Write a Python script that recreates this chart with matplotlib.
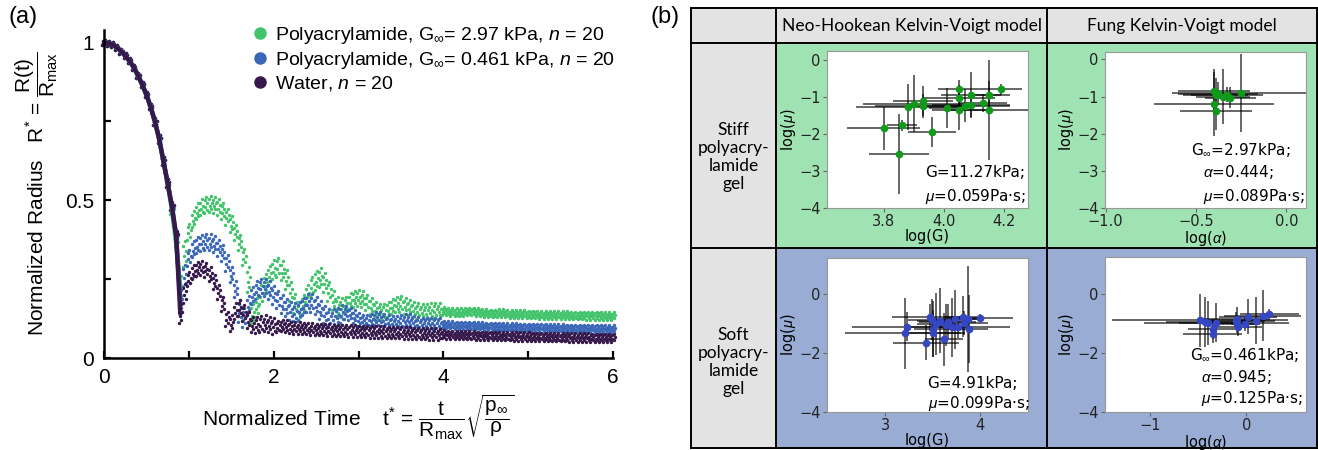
import matplotlib
matplotlib.use("Agg")
import matplotlib.pyplot as plt
from matplotlib.lines import Line2D
from matplotlib.patches import Rectangle
import numpy as np

plt.rcParams['font.family'] = ['Liberation Sans', 'DejaVu Sans']
plt.rcParams['mathtext.fontset'] = 'custom'
plt.rcParams['mathtext.rm'] = 'Liberation Sans'
plt.rcParams['mathtext.it'] = 'Liberation Sans:italic'
plt.rcParams['mathtext.bf'] = 'Liberation Sans:bold'

W, H = 1318, 450

# ---------------- panel (a): bubble radius vs time ----------------
# sampled every 0.05 from t* = 0 to 6
t_star = np.linspace(0, 6, 121)

collapse = [1.000, 0.998, 0.993, 0.985, 0.973, 0.958, 0.942, 0.922, 0.896, 0.867,
            0.835, 0.796, 0.750, 0.695, 0.625, 0.555]  # 0.00 - 0.75

green_mid = collapse + [0.470, 0.365,                           # 0.80 - 0.85
    0.220, 0.330, 0.400, 0.440, 0.465, 0.478, 0.485, 0.488, 0.486, 0.479,   # 0.90 - 1.35
    0.466, 0.448, 0.425, 0.398, 0.366, 0.320, 0.250, 0.140, 0.160, 0.200,   # 1.40 - 1.85
    0.235, 0.262, 0.280, 0.288, 0.276, 0.250, 0.212, 0.172, 0.148, 0.170,   # 1.90 - 2.35
    0.200, 0.228, 0.247, 0.254, 0.240, 0.212, 0.182, 0.162, 0.160, 0.170,   # 2.40 - 2.85
    0.180, 0.188, 0.190, 0.186, 0.176, 0.165, 0.153, 0.146, 0.146, 0.154,   # 2.90 - 3.35
    0.163, 0.170, 0.171, 0.166, 0.160, 0.154, 0.150, 0.147, 0.146, 0.148,   # 3.40 - 3.85
    0.150, 0.150, 0.149, 0.147, 0.146, 0.145, 0.145, 0.146, 0.147, 0.147,   # 3.90 - 4.35
    0.146, 0.144, 0.142, 0.141, 0.141, 0.142, 0.142, 0.141, 0.140, 0.139,   # 4.40 - 4.85
    0.139, 0.139, 0.138, 0.138, 0.138, 0.137, 0.137, 0.137, 0.137, 0.136,   # 4.90 - 5.35
    0.136, 0.136, 0.135, 0.135, 0.135, 0.135, 0.134, 0.134, 0.134, 0.134,   # 5.40 - 5.85
    0.133, 0.133, 0.133]                                                    # 5.90 - 6.00

blue_mid = collapse + [0.480, 0.388,
    0.180, 0.260, 0.318, 0.345, 0.358, 0.365, 0.368, 0.367, 0.361, 0.350,
    0.332, 0.302, 0.265, 0.218, 0.150, 0.128, 0.168, 0.198, 0.215, 0.224,
    0.224, 0.215, 0.200, 0.186, 0.172, 0.160, 0.150, 0.145, 0.150, 0.163,
    0.174, 0.175, 0.166, 0.152, 0.138, 0.128, 0.126, 0.131, 0.140, 0.144,
    0.140, 0.131, 0.122, 0.117, 0.116, 0.120, 0.125, 0.126, 0.121, 0.116,
    0.112, 0.112, 0.115, 0.118, 0.118, 0.114, 0.110, 0.108, 0.107, 0.108,
    0.108, 0.107, 0.106, 0.105, 0.105, 0.104, 0.104, 0.104, 0.103, 0.103,
    0.102, 0.102, 0.101, 0.101, 0.100, 0.100, 0.100, 0.099, 0.099, 0.099,
    0.098, 0.098, 0.098, 0.097, 0.097, 0.097, 0.097, 0.096, 0.096, 0.096,
    0.096, 0.095, 0.095, 0.095, 0.095, 0.095, 0.094, 0.094, 0.094, 0.094,
    0.094, 0.093, 0.093]

water_mid = collapse + [0.482, 0.390,
    0.140, 0.205, 0.250, 0.272, 0.283, 0.285, 0.279, 0.265, 0.242, 0.210,
    0.170, 0.125, 0.110, 0.148, 0.158, 0.142, 0.120, 0.106, 0.104, 0.108,
    0.110, 0.106, 0.102, 0.100, 0.103, 0.101, 0.097, 0.095, 0.095, 0.094,
    0.093, 0.092, 0.091, 0.090, 0.090, 0.089, 0.088, 0.088, 0.087, 0.087,
    0.086, 0.086, 0.085, 0.084, 0.084, 0.083, 0.083, 0.082, 0.082, 0.081,
    0.081, 0.080, 0.080, 0.079, 0.079, 0.078, 0.078, 0.077, 0.077, 0.076,
    0.076, 0.075, 0.075, 0.074, 0.074, 0.073, 0.073, 0.072, 0.072, 0.072,
    0.071, 0.071, 0.071, 0.070, 0.070, 0.070, 0.069, 0.069, 0.069, 0.068,
    0.068, 0.068, 0.068, 0.067, 0.067, 0.067, 0.067, 0.066, 0.066, 0.066,
    0.066, 0.066, 0.065, 0.065, 0.065, 0.065, 0.065, 0.064, 0.064, 0.064,
    0.064, 0.064, 0.064]

# half width of the scatter band across the 20 runs
green_spread = [0.008] * 12 + [0.012] * 6 + [0.040, 0.040] + [0.025] * 14 + [0.040, 0.030] \
    + [0.030] * 21 + [0.025] * 23 + [0.012] * 41
blue_spread = [0.008] * 12 + [0.012] * 6 + [0.035, 0.035] + [0.025] * 12 + [0.035, 0.030] \
    + [0.028] * 23 + [0.020] * 23 + [0.011] * 41
water_spread = [0.008] * 12 + [0.012] * 6 + [0.030, 0.030] + [0.022] * 10 + [0.025] * 11 \
    + [0.018] * 39 + [0.013] * 41

labels_a = [r'Polyacrylamide, G$_{\infty}$= 2.97 kPa, $n$ = 20',
            r'Polyacrylamide, G$_{\infty}$= 0.461 kPa, $n$ = 20',
            r'Water, $n$ = 20']
colors_a = ['#43c46c', '#3a67b8', '#36194a']

# ---------------- panel (b): fitted parameters ----------------
neo_stiff_logG = [3.80, 3.85, 3.86, 3.88, 3.90, 3.93, 3.93, 3.96, 4.01, 4.05,
                  4.05, 4.05, 4.07, 4.09, 4.09, 4.13, 4.15, 4.15, 4.19]
neo_stiff_logmu = [-1.85, -2.53, -1.77, -1.28, -1.19, -1.11, -1.24, -1.95, -1.30, -0.79,
                   -1.03, -1.36, -1.24, -0.94, -1.22, -1.16, -0.96, -1.36, -0.79]
neo_stiff_xerr = [0.12, 0.10, 0.05, 0.17, 0.17, 0.10, 0.16, 0.08, 0.06, 0.07,
                  0.12, 0.09, 0.15, 0.10, 0.13, 0.08, 0.07, 0.13, 0.07]
neo_stiff_yerr = [0.58, 1.08, 0.15, 0.62, 0.77, 0.40, 0.32, 0.40, 0.55, 0.25,
                  0.35, 0.52, 0.45, 0.60, 0.35, 0.25, 0.40, 1.35, 0.15]

fung_stiff_logalpha = [-0.40, -0.39, -0.40, -0.39, -0.35, -0.31, -0.25, -0.38, -0.33]
fung_stiff_logmu = [-0.86, -0.95, -1.20, -1.40, -1.00, -1.03, -0.90, -0.92, -0.95]
fung_stiff_xerr = [0.20, 0.18, 0.33, 0.20, 0.15, 0.14, 0.38, 0.22, 0.20]
fung_stiff_yerr = [0.60, 0.45, 0.85, 0.50, 0.75, 0.28, 1.05, 0.30, 0.20]

neo_soft_logG = [3.23, 3.21, 3.43, 3.47, 3.49, 3.50, 3.50, 3.54, 3.58, 3.62,
                 3.64, 3.66, 3.70, 3.74, 3.82, 3.83, 3.87, 3.88, 4.00, 3.77]
neo_soft_logmu = [-1.11, -1.33, -1.65, -0.80, -0.88, -1.19, -1.34, -1.02, -0.92, -1.54,
                  -1.06, -0.94, -1.13, -0.86, -0.77, -0.99, -0.86, -1.19, -0.82, -1.13]
neo_soft_xerr = [0.58, 0.63, 0.35, 0.40, 0.25, 0.20, 0.30, 0.20, 0.25, 0.20,
                 0.15, 0.30, 0.20, 0.25, 0.20, 0.25, 0.15, 0.20, 0.35, 0.55]
neo_soft_yerr = [0.50, 1.20, 0.60, 0.45, 0.70, 0.95, 0.80, 1.05, 1.10, 0.90,
                 0.70, 0.60, 1.00, 1.00, 0.70, 0.40, 1.80, 1.15, 0.15, 0.35]

fung_soft_logalpha = [-0.48, -0.43, -0.40, -0.35, -0.35, -0.31, -0.10, -0.10, -0.09, -0.01,
                      0.02, 0.10, 0.17, 0.24, -0.11]
fung_soft_logmu = [-0.89, -0.94, -0.99, -1.19, -1.36, -0.97, -0.86, -1.02, -1.11, -1.02,
                   -0.77, -0.91, -0.74, -0.67, -0.91]
fung_soft_xerr = [0.91, 0.40, 0.30, 0.25, 0.31, 0.75, 0.35, 0.20, 0.25, 0.15,
                  0.30, 0.20, 0.40, 0.31, 0.30]
fung_soft_yerr = [0.90, 0.85, 0.75, 0.35, 0.30, 0.65, 0.40, 0.30, 0.30, 0.25,
                  0.60, 0.80, 0.86, 0.15, 0.30]

col_titles = ['Neo-Hookean Kelvin-Voigt model', 'Fung Kelvin-Voigt model']
row_titles = ['Stiff\npolyacry-\nlamide\ngel', 'Soft\npolyacry-\nlamide\ngel']


def box(left, top, right, bottom):
    """pixel box -> figure fraction rect"""
    return [left / W, 1 - bottom / H, (right - left) / W, (bottom - top) / H]


fig = plt.figure(figsize=(W / 100, H / 100), dpi=100)

# ---- panel (a)
ax = fig.add_axes(box(104, 30, 613, 358), zorder=2)
# band position (fraction of half width) and a small time stagger for each run group
levels = [(-1.0, -0.018), (-0.6, 0.012), (-0.2, -0.006), (0.2, 0.020), (0.6, -0.014), (1.0, 0.006)]
n_collapse = 19  # points up to t* = 0.9, where all runs sit on one curve
for mid, spread, color in [(green_mid, green_spread, colors_a[0]),
                           (blue_mid, blue_spread, colors_a[1]),
                           (water_mid, water_spread, colors_a[2])]:
    mid = np.array(mid)
    spread = np.array(spread)
    ax.plot(t_star[:n_collapse], mid[:n_collapse], color=color, lw=3.2, solid_capstyle='round')
    for k, dt in levels:
        ax.scatter(t_star + dt, mid + k * spread, s=6, color=color,
                   linewidths=0, clip_on=False)

ax.set_xlim(0, 6)
ax.set_ylim(0, 1.04)
ax.set_xticks([0, 1, 2, 3, 4, 5, 6])
ax.set_xticklabels(['0', '', '2', '', '4', '', '6'])
ax.set_yticks([0, 0.25, 0.5, 0.75, 1])
ax.set_yticklabels(['0', '', '0.5', '', '1'])
ax.tick_params(direction='in', length=5, width=1.6, labelsize=15, pad=7)
for s in ['top', 'right']:
    ax.spines[s].set_visible(False)
for s in ['left', 'bottom']:
    ax.spines[s].set_linewidth(1.8)
ax.set_ylabel(r'Normalized Radius   $\mathrm{R^{*}}$ = $\dfrac{\mathrm{R(t)}}{\mathrm{R_{max}}}$',
              fontsize=15, labelpad=4)
ax.set_xlabel(r'Normalized Time    $\mathrm{t^{*}}$ = $\dfrac{\mathrm{t}}{\mathrm{R_{max}}}'
              r'\sqrt{\dfrac{\mathrm{p_{\infty}}}{\mathrm{\rho}}}$', fontsize=15, labelpad=4)
handles = [Line2D([], [], ls='', marker='o', ms=8, color=c) for c in colors_a]
ax.legend(handles, labels_a, loc='upper right', bbox_to_anchor=(1.02, 1.04), frameon=False,
          fontsize=14, handletextpad=0.3, labelspacing=0.2, handlelength=1.0, borderaxespad=0)

fig.text(8 / W, 1 - 6 / H, '(a)', va='top', ha='left', fontsize=17)
fig.text(651 / W, 1 - 6 / H, '(b)', va='top', ha='left', fontsize=17)

# ---- panel (b) table background
tax = fig.add_axes([0, 0, 1, 1], zorder=0)
tax.set_xlim(0, W)
tax.set_ylim(H, 0)
tax.axis('off')
col_edges = [691, 776, 1047, 1317]
row_edges = [8, 43, 248, 448]
gray, green_bg, blue_bg = '#e3e3e3', '#a0e3b2', '#98acd4'
cell_colors = [[gray, gray, gray], [gray, green_bg, green_bg], [gray, blue_bg, blue_bg]]
for i in range(3):
    for j in range(3):
        tax.add_patch(Rectangle((col_edges[j], row_edges[i]),
                                col_edges[j + 1] - col_edges[j], row_edges[i + 1] - row_edges[i],
                                facecolor=cell_colors[i][j], edgecolor='none'))
for xe in col_edges:
    tax.plot([xe, xe], [row_edges[0], row_edges[-1]], color='black', lw=1.4)
for ye in row_edges:
    tax.plot([col_edges[0], col_edges[-1]], [ye, ye], color='black', lw=1.4)
for j, title in enumerate(col_titles):
    tax.text((col_edges[j + 1] + col_edges[j + 2]) / 2, 26, title, ha='center', va='center',
             fontsize=12.5, family=['Lato', 'DejaVu Sans'])
for i, title in enumerate(row_titles):
    tax.text((col_edges[0] + col_edges[1]) / 2, [157, 362][i], title, ha='center', va='center',
             fontsize=12.5, family=['Lato', 'DejaVu Sans'], linespacing=1.15)


def sub_plot(rect, x, y, xe, ye, mcolor, xlim, ylim, xticks, yticks, xlabel, notes):
    sa = fig.add_axes(rect, zorder=2)
    sa.errorbar(x, y, xerr=xe, yerr=ye, fmt='o', ms=4.5, color=mcolor,
                ecolor=(0, 0, 0, 0.6), elinewidth=1.4, capsize=0)
    sa.set_xlim(*xlim)
    sa.set_ylim(*ylim)
    sa.set_xticks(xticks)
    sa.set_yticks(yticks)
    sa.tick_params(labelsize=10.5, length=3, color='0.4', labelcolor='#222222', pad=1.5)
    for tl in sa.get_xticklabels() + sa.get_yticklabels():
        tl.set_family('DejaVu Sans')
    for s in sa.spines.values():
        s.set_color('0.6')
        s.set_linewidth(0.8)
    sa.set_xlabel(xlabel, fontsize=10.5, family='DejaVu Sans', labelpad=0)
    sa.set_ylabel(r'log($\mu$)', fontsize=10.5, family='DejaVu Sans', labelpad=1)
    for xf, yf, txt in notes:
        sa.text(xf, yf, txt, transform=sa.transAxes, ha='left', va='center',
                fontsize=11, family='DejaVu Sans')
    return sa


sub_plot(box(827, 51, 1028, 208), neo_stiff_logG, neo_stiff_logmu, neo_stiff_xerr, neo_stiff_yerr,
         '#0f9a1a', (3.612, 4.28), (-4, 0.24), [3.8, 4.0, 4.2], [0, -1, -2, -3, -4], 'log(G)',
         [(0.49, 0.227, 'G=11.27kPa;'), (0.49, 0.072, r'$\mu$=0.059Pa·s;')])
sub_plot(box(1105, 52, 1306, 208), fung_stiff_logalpha, fung_stiff_logmu, fung_stiff_xerr,
         fung_stiff_yerr, '#0f9a1a', (-1.003, 0.108), (-4, 0.2), [-1.0, -0.5, 0.0],
         [0, -1, -2, -3, -4], r'log($\alpha$)',
         [(0.43, 0.371, r'G$_{\infty}$=2.97kPa;'), (0.487, 0.232, r'$\alpha$=0.444;'),
          (0.487, 0.072, r'$\mu$=0.089Pa·s;')])
sub_plot(box(827, 258, 1028, 412), neo_soft_logG, neo_soft_logmu, neo_soft_xerr, neo_soft_yerr,
         '#3546c2', (2.386, 4.505), (-4, 1.21), [3, 4], [0, -2, -4], 'log(G)',
         [(0.50, 0.186, 'G=4.91kPa;'), (0.50, 0.058, r'$\mu$=0.099Pa·s;')])
sub_plot(box(1105, 257, 1306, 412), fung_soft_logalpha, fung_soft_logmu, fung_soft_xerr,
         fung_soft_yerr, '#3546c2', (-1.466, 0.62), (-4, 1.25), [-1, 0], [0, -2, -4],
         r'log($\alpha$)',
         [(0.421, 0.365, r'G$_{\infty}$=0.461kPa;'), (0.48, 0.227, r'$\alpha$=0.945;'),
          (0.48, 0.089, r'$\mu$=0.125Pa·s;')])

fig.savefig('out.png', dpi=100)
